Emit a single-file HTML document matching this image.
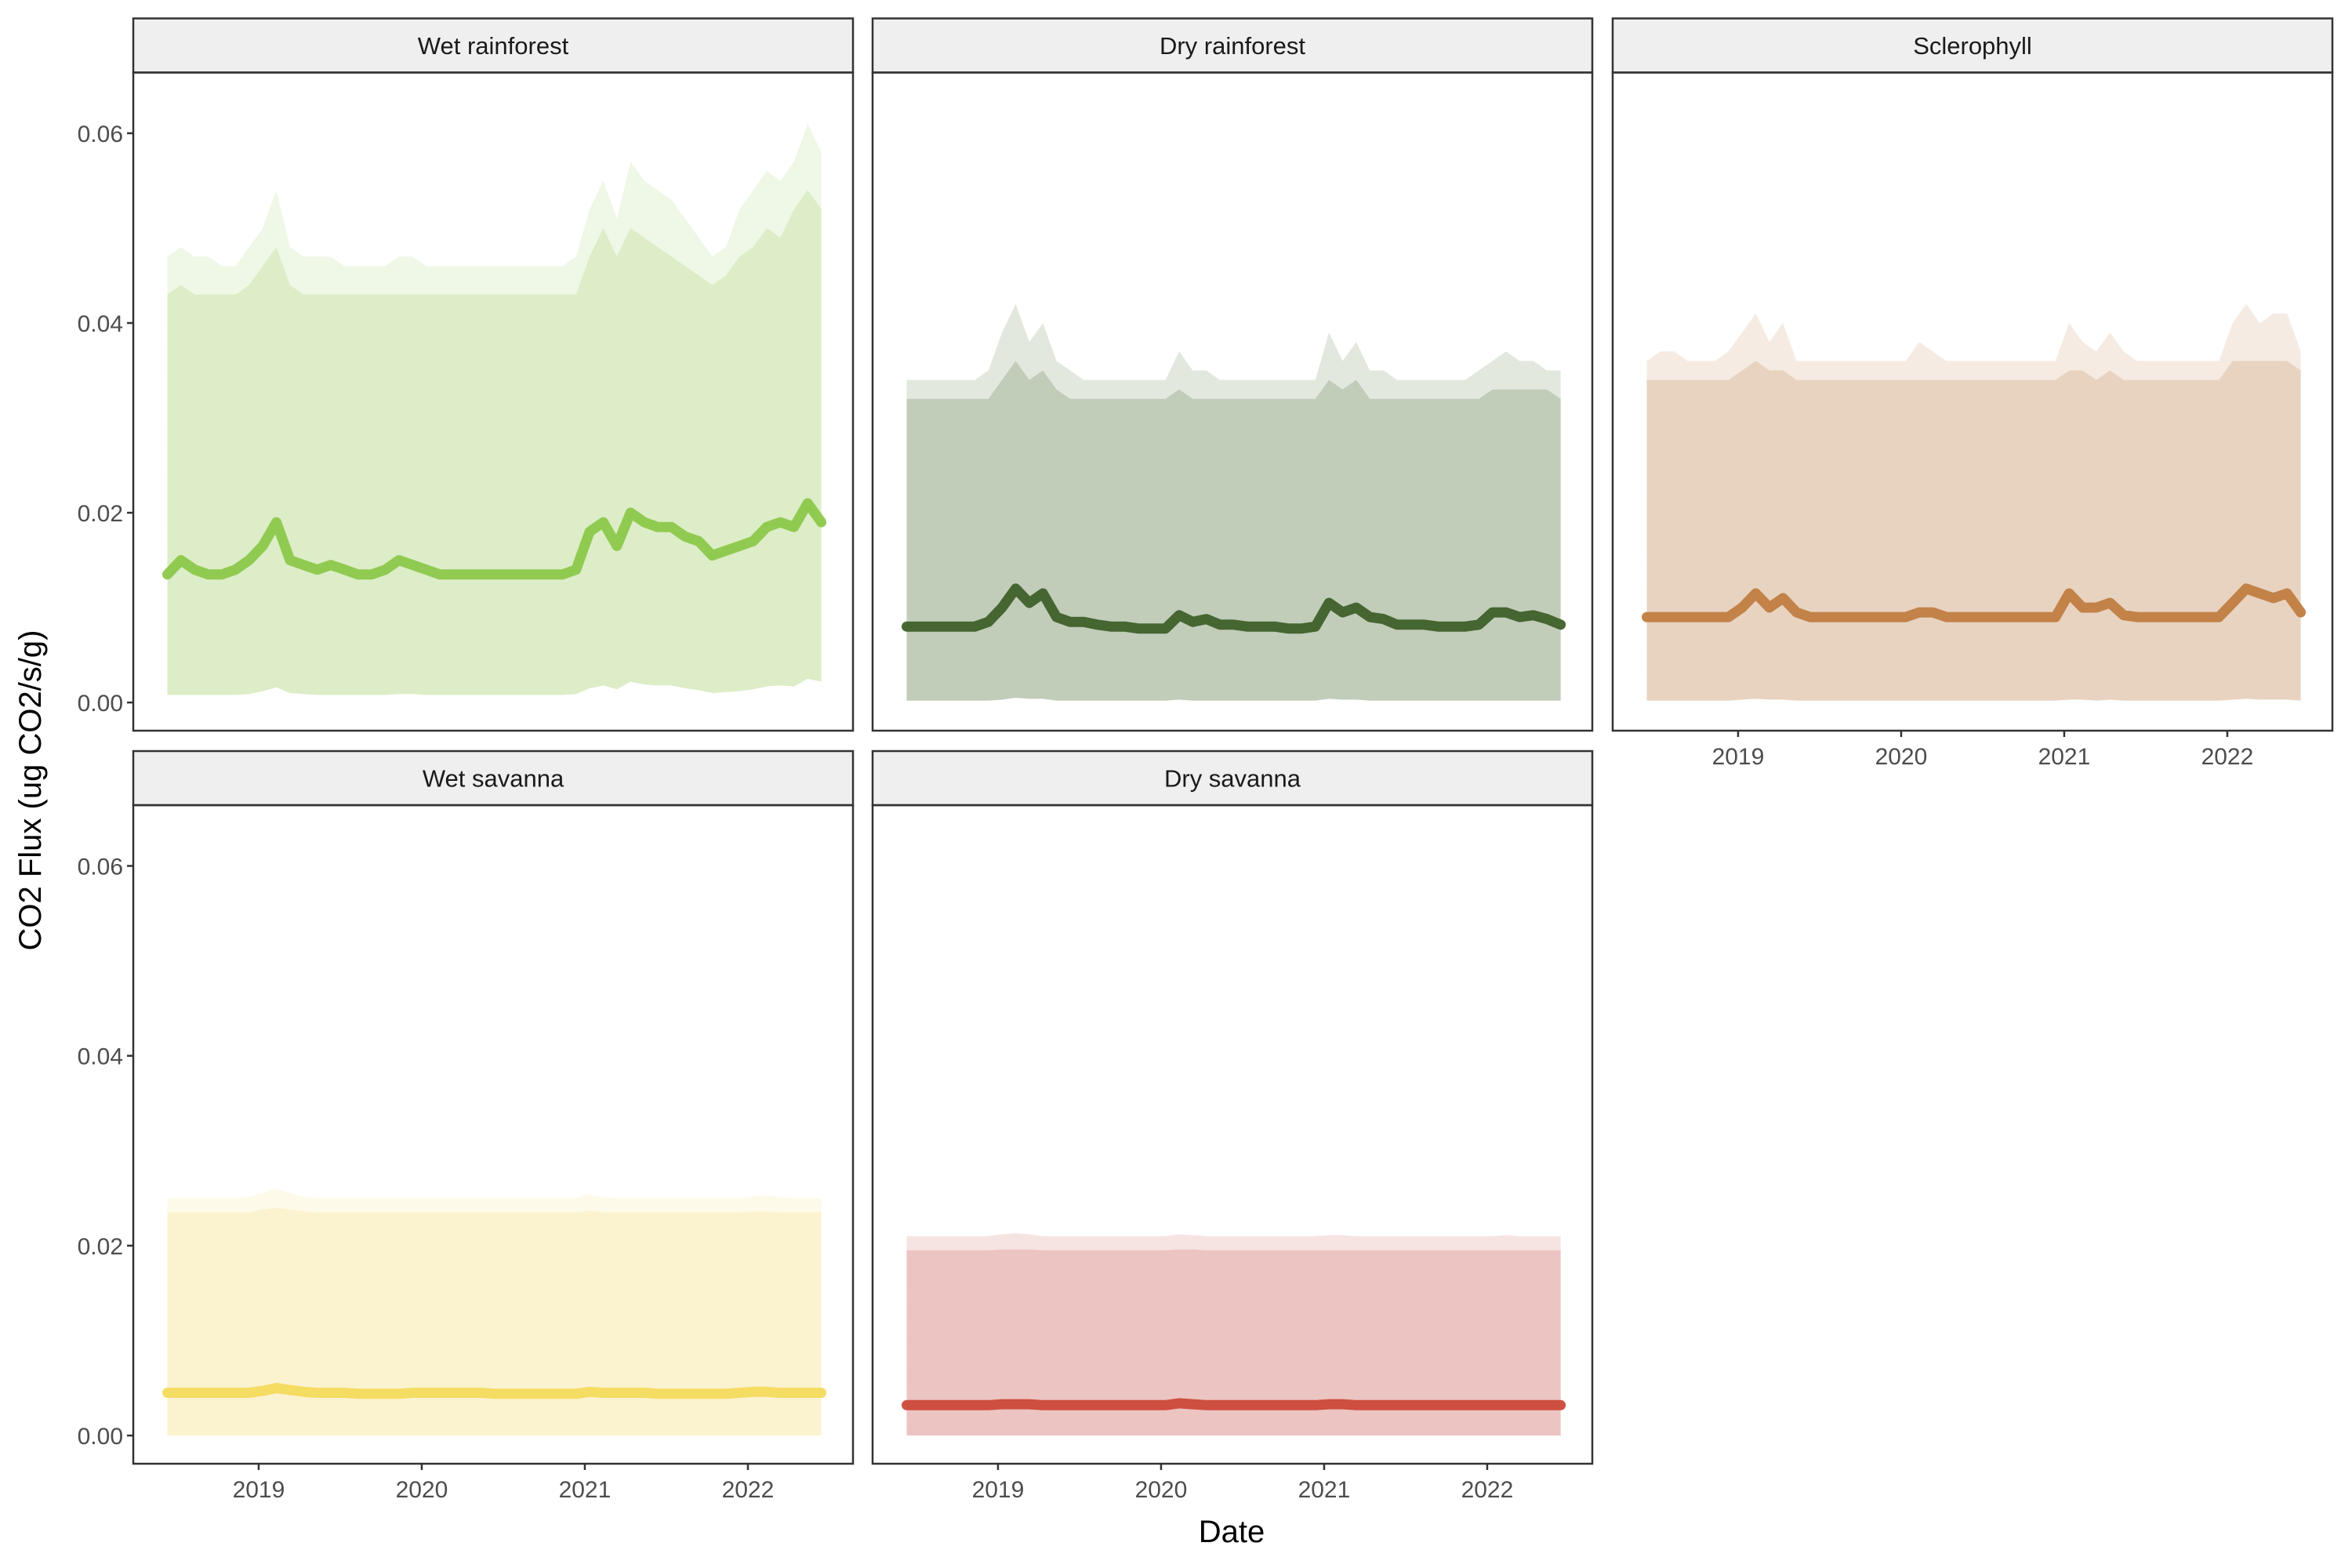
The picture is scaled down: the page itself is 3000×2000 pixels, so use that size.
<!DOCTYPE html>
<html><head><meta charset="utf-8"><style>
html,body{margin:0;padding:0;background:#fff;}
svg{display:block;font-family:"Liberation Sans",Arial,sans-serif;}
</style></head><body>
<svg id="chart" width="3000" height="2000" viewBox="0 0 3000 2000" xmlns="http://www.w3.org/2000/svg">
<text x="0" y="0" transform="translate(52,1008) rotate(-90)" text-anchor="middle" font-size="40" fill="#000">CO2 Flux (ug CO2/s/g)</text>
<text x="1571" y="1967" text-anchor="middle" font-size="40" fill="#000">Date</text>
</svg>
<script>
// ---- data (monthly, Jun 2018 - Jun 2022) ----
const facetNames = ["Wet rainforest","Dry rainforest","Sclerophyll","Wet savanna","Dry savanna"];
const yTickValues = [0.00,0.02,0.04,0.06];
const yTickLabels = ["0.00","0.02","0.04","0.06"];
const xTickValues = [2019,2020,2021,2022];
const xTickLabels = ["2019","2020","2021","2022"];

const wetRfMean = [.0135,.015,.014,.0135,.0135,.014,.015,.0165,.019,.015,.0145,.014,.0145,.014,.0135,.0135,.014,.015,.0145,.014,.0135,.0135,.0135,.0135,.0135,.0135,.0135,.0135,.0135,.0135,.014,.018,.019,.0165,.020,.019,.0185,.0185,.0175,.017,.0155,.016,.0165,.017,.0185,.019,.0185,.021,.019];
const wetRfUpper = [.043,.044,.043,.043,.043,.043,.044,.046,.048,.044,.043,.043,.043,.043,.043,.043,.043,.043,.043,.043,.043,.043,.043,.043,.043,.043,.043,.043,.043,.043,.043,.047,.050,.047,.050,.049,.048,.047,.046,.045,.044,.045,.047,.048,.050,.049,.052,.054,.052];
const wetRfPeak = [.047,.048,.047,.047,.046,.046,.048,.050,.054,.048,.047,.047,.047,.046,.046,.046,.046,.047,.047,.046,.046,.046,.046,.046,.046,.046,.046,.046,.046,.046,.047,.052,.055,.051,.057,.055,.054,.053,.051,.049,.047,.048,.052,.054,.056,.055,.057,.061,.058];
const wetRfLower = [.0008,.0008,.0008,.0008,.0008,.0008,.0009,.0012,.0016,.001,.0009,.0008,.0008,.0008,.0008,.0008,.0008,.0009,.0009,.0008,.0008,.0008,.0008,.0008,.0008,.0008,.0008,.0008,.0008,.0008,.0009,.0015,.0018,.0014,.0022,.0019,.0018,.0018,.0015,.0013,.001,.0011,.0012,.0014,.0017,.0018,.0017,.0025,.0022];

const dryRfMean = [.008,.008,.008,.008,.008,.008,.0085,.010,.012,.0105,.0115,.009,.0085,.0085,.0082,.008,.008,.0078,.0078,.0078,.0092,.0085,.0088,.0082,.0082,.008,.008,.008,.0078,.0078,.008,.0105,.0095,.010,.009,.0088,.0082,.0082,.0082,.008,.008,.008,.0082,.0095,.0095,.009,.0092,.0088,.0082];
const dryRfUpper = [.032,.032,.032,.032,.032,.032,.032,.034,.036,.034,.035,.033,.032,.032,.032,.032,.032,.032,.032,.032,.033,.032,.032,.032,.032,.032,.032,.032,.032,.032,.032,.034,.033,.034,.032,.032,.032,.032,.032,.032,.032,.032,.032,.033,.033,.033,.033,.033,.032];
const dryRfPeak = [.034,.034,.034,.034,.034,.034,.035,.039,.042,.038,.040,.036,.035,.034,.034,.034,.034,.034,.034,.034,.037,.035,.035,.034,.034,.034,.034,.034,.034,.034,.034,.039,.036,.038,.035,.035,.034,.034,.034,.034,.034,.034,.035,.036,.037,.036,.036,.035,.035];
const dryRfLower = [.0002,.0002,.0002,.0002,.0002,.0002,.0002,.0003,.0005,.0004,.0004,.0002,.0002,.0002,.0002,.0002,.0002,.0002,.0002,.0002,.0003,.0002,.0002,.0002,.0002,.0002,.0002,.0002,.0002,.0002,.0002,.0004,.0003,.0003,.0002,.0002,.0002,.0002,.0002,.0002,.0002,.0002,.0002,.0002,.0002,.0002,.0002,.0002,.0002];

const sclMean = [.009,.009,.009,.009,.009,.009,.009,.010,.0115,.010,.011,.0095,.009,.009,.009,.009,.009,.009,.009,.009,.0095,.0095,.009,.009,.009,.009,.009,.009,.009,.009,.009,.0115,.010,.010,.0105,.0092,.009,.009,.009,.009,.009,.009,.009,.0105,.012,.0115,.011,.0115,.0095];
const sclUpper = [.034,.034,.034,.034,.034,.034,.034,.035,.036,.035,.035,.034,.034,.034,.034,.034,.034,.034,.034,.034,.034,.034,.034,.034,.034,.034,.034,.034,.034,.034,.034,.035,.035,.034,.035,.034,.034,.034,.034,.034,.034,.034,.034,.036,.036,.036,.036,.036,.035];
const sclPeak = [.036,.037,.037,.036,.036,.036,.037,.039,.041,.038,.040,.036,.036,.036,.036,.036,.036,.036,.036,.036,.038,.037,.036,.036,.036,.036,.036,.036,.036,.036,.036,.040,.038,.037,.039,.037,.036,.036,.036,.036,.036,.036,.036,.040,.042,.040,.041,.041,.037];
const sclLower = [.0002,.0002,.0002,.0002,.0002,.0002,.0002,.0003,.0004,.0003,.0003,.0002,.0002,.0002,.0002,.0002,.0002,.0002,.0002,.0002,.0002,.0002,.0002,.0002,.0002,.0002,.0002,.0002,.0002,.0002,.0002,.0003,.0003,.0002,.0003,.0002,.0002,.0002,.0002,.0002,.0002,.0002,.0002,.0003,.0004,.0003,.0003,.0003,.0002];

const wetSavMean = [.0045,.0045,.0045,.0045,.0045,.0045,.0045,.0047,.0050,.0048,.0046,.0045,.0045,.0045,.0044,.0044,.0044,.0044,.0045,.0045,.0045,.0045,.0045,.0045,.0044,.0044,.0044,.0044,.0044,.0044,.0044,.0046,.0045,.0045,.0045,.0045,.0044,.0044,.0044,.0044,.0044,.0044,.0045,.0046,.0046,.0045,.0045,.0045,.0045];
const wetSavUpper = [.0235,.0235,.0235,.0235,.0235,.0235,.0235,.0238,.0240,.0238,.0236,.0235,.0235,.0235,.0235,.0235,.0235,.0235,.0235,.0235,.0235,.0235,.0235,.0235,.0235,.0235,.0235,.0235,.0235,.0235,.0235,.0237,.0235,.0235,.0235,.0235,.0235,.0235,.0235,.0235,.0235,.0235,.0235,.0236,.0236,.0235,.0235,.0235,.0235];
const wetSavPeak = [.0250,.0250,.0250,.0250,.0250,.0250,.0252,.0255,.0260,.0255,.0252,.0250,.0250,.0250,.0250,.0250,.0250,.0250,.0250,.0250,.0250,.0250,.0250,.0250,.0250,.0250,.0250,.0250,.0250,.0250,.0250,.0254,.0251,.0250,.0250,.0250,.0250,.0250,.0250,.0250,.0250,.0250,.0250,.0252,.0253,.0251,.0250,.0250,.0250];
const wetSavLower = [0,0,0,0,0,0,0,0,0,0,0,0,0,0,0,0,0,0,0,0,0,0,0,0,0,0,0,0,0,0,0,0,0,0,0,0,0,0,0,0,0,0,0,0,0,0,0,0,0];

const drySavMean = [.0032,.0032,.0032,.0032,.0032,.0032,.0032,.0033,.0033,.0033,.0032,.0032,.0032,.0032,.0032,.0032,.0032,.0032,.0032,.0032,.0034,.0033,.0032,.0032,.0032,.0032,.0032,.0032,.0032,.0032,.0032,.0033,.0033,.0032,.0032,.0032,.0032,.0032,.0032,.0032,.0032,.0032,.0032,.0032,.0032,.0032,.0032,.0032,.0032];
const drySavUpper = [.0195,.0195,.0195,.0195,.0195,.0195,.0195,.0196,.0196,.0196,.0195,.0195,.0195,.0195,.0195,.0195,.0195,.0195,.0195,.0195,.0196,.0196,.0195,.0195,.0195,.0195,.0195,.0195,.0195,.0195,.0195,.0195,.0195,.0195,.0195,.0195,.0195,.0195,.0195,.0195,.0195,.0195,.0195,.0195,.0195,.0195,.0195,.0195,.0195];
const drySavPeak = [.0210,.0210,.0210,.0210,.0210,.0210,.0210,.0212,.0213,.0212,.0210,.0210,.0210,.0210,.0210,.0210,.0210,.0210,.0210,.0210,.0212,.0211,.0210,.0210,.0210,.0210,.0210,.0210,.0210,.0210,.0210,.0211,.0211,.0210,.0210,.0210,.0210,.0210,.0210,.0210,.0210,.0210,.0210,.0210,.0211,.0210,.0210,.0210,.0210];
const drySavLower = [0,0,0,0,0,0,0,0,0,0,0,0,0,0,0,0,0,0,0,0,0,0,0,0,0,0,0,0,0,0,0,0,0,0,0,0,0,0,0,0,0,0,0,0,0,0,0,0,0];

const dataStart = 2018.44, dataEnd = 2022.45;

const NS = "http://www.w3.org/2000/svg";
const svg = document.getElementById("chart");
function mk(tag, attrs, parent){ const e=document.createElementNS(NS,tag); for(const k in attrs) e.setAttribute(k,attrs[k]); (parent||svg).appendChild(e); return e; }

const panelW = 918;
const cols = [170,1113,2057];
const rows = [{st:23.5,pt:92.5,pb:932},{st:958,pt:1027,pb:1867}];
const yMin=-0.00297, yMax=0.0664, tMin=2018.231, pxPerYear=208;

const facets = [
 {name:"wet-rainforest", col:0,row:0, mean:wetRfMean, up:wetRfUpper, pk:wetRfPeak, lo:wetRfLower, band:"#dcedc7", line:"#8cc84b", xaxis:false, yaxis:true},
 {name:"dry-rainforest", col:1,row:0, mean:dryRfMean, up:dryRfUpper, pk:dryRfPeak, lo:dryRfLower, band:"#c1ccb9", line:"#3e5f29", xaxis:false, yaxis:false},
 {name:"sclerophyll", col:2,row:0, mean:sclMean, up:sclUpper, pk:sclPeak, lo:sclLower, band:"#e8d3c1", line:"#c07d41", xaxis:true, yaxis:false},
 {name:"wet-savanna", col:0,row:1, mean:wetSavMean, up:wetSavUpper, pk:wetSavPeak, lo:wetSavLower, band:"#fbf3cf", line:"#f4da5c", xaxis:true, yaxis:true},
 {name:"dry-savanna", col:1,row:1, mean:drySavMean, up:drySavUpper, pk:drySavPeak, lo:drySavLower, band:"#ecc4c1", line:"#cc4838", xaxis:true, yaxis:false}
];

facets.forEach((f,fi)=>{
  const L=cols[f.col], R=L+panelW, r=rows[f.row];
  const x = t => L + (t - tMin)*pxPerYear;
  const y = v => r.pb - (v - yMin)/(yMax-yMin)*(r.pb - r.pt);
  const n=f.mean.length;
  const tAt = i => dataStart + i*(dataEnd-dataStart)/(n-1);
  const g = mk("g",{});
  
  
  const strip = mk("rect",{x:L,y:r.st,width:panelW,height:r.pt-r.st,fill:"#efefef",stroke:"#333",'stroke-width':2.5},g);
  
  
  const st = mk("text",{x:L+panelW/2,y:(r.st+r.pt)/2+11,'text-anchor':'middle','font-size':31,fill:'#1a1a1a'},g);
  st.textContent = facetNames[fi];
  
  
  let d="M"+x(tAt(0))+","+y(f.lo[0]);
  for(let i=0;i<n;i++) d+=" L"+x(tAt(i)).toFixed(1)+","+y(f.pk[i]).toFixed(1);
  for(let i=n-1;i>=0;i--) d+=" L"+x(tAt(i)).toFixed(1)+","+y(f.lo[i]).toFixed(1);
  const pk = mk("path",{d:d+"Z",fill:f.band,opacity:0.45},g);
  
  
  d="M"+x(tAt(0))+","+y(f.up[0]);
  for(let i=0;i<n;i++) d+=" L"+x(tAt(i)).toFixed(1)+","+y(f.up[i]).toFixed(1);
  for(let i=n-1;i>=0;i--) d+=" L"+x(tAt(i)).toFixed(1)+","+y(f.lo[i]).toFixed(1);
  const band = mk("path",{d:d+"Z",fill:f.band},g);
  
  
  d="";
  for(let i=0;i<n;i++) d+=(i?" L":"M")+x(tAt(i)).toFixed(1)+","+y(f.mean[i]).toFixed(1);
  const ln = mk("path",{d:d,fill:"none",stroke:f.line,'stroke-width':13,'stroke-linejoin':'round','stroke-linecap':'round',opacity:0.95},g);
  
  
  const bd = mk("rect",{x:L,y:r.pt,width:panelW,height:r.pb-r.pt,fill:"none",stroke:"#333",'stroke-width':2.5},g);
  
  
  if(f.yaxis){
    yTickValues.forEach((v,k)=>{
      mk("line",{x1:L-8,x2:L,y1:y(v),y2:y(v),stroke:"#333",'stroke-width':2.5},g);
      const t = mk("text",{x:L-13,y:y(v)+11,'text-anchor':'end','font-size':30,fill:'#4d4d4d'},g);
      t.textContent = yTickLabels[k];
      
      
    });
  }
  if(f.xaxis){
    xTickValues.forEach((v,k)=>{
      mk("line",{x1:x(v),x2:x(v),y1:r.pb,y2:r.pb+8,stroke:"#333",'stroke-width':2.5},g);
      const t = mk("text",{x:x(v),y:r.pb+43,'text-anchor':'middle','font-size':30,fill:'#4d4d4d'},g);
      t.textContent = xTickLabels[k];
      
      
    });
  }
});
</script>
</body></html>
